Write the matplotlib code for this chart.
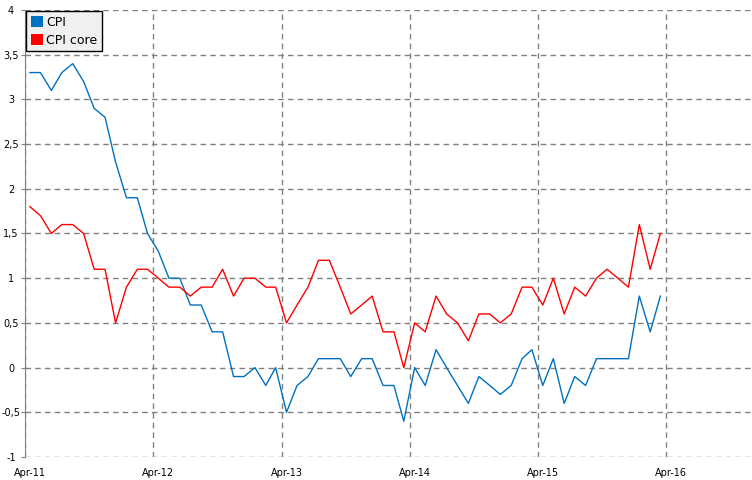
import numpy as np
import pandas as pd
import matplotlib
matplotlib.use('Agg')
import matplotlib.pyplot as plt
import matplotlib.dates as mdates
from matplotlib.patches import Patch
from matplotlib.ticker import FuncFormatter, MultipleLocator

# Datos mensuales (abr-2011 a mar-2016)
start_month = '2011-04-01'
n_months = 60

cpi = [3.3, 3.3, 3.1, 3.3, 3.4, 3.2, 2.9, 2.8, 2.3, 1.9, 1.9, 1.5,
       1.3, 1.0, 1.0, 0.7, 0.7, 0.4, 0.4, -0.1, -0.1, 0.0, -0.2, 0.0,
       -0.5, -0.2, -0.1, 0.1, 0.1, 0.1, -0.1, 0.1, 0.1, -0.2, -0.2, -0.6,
       0.0, -0.2, 0.2, 0.0, -0.2, -0.4, -0.1, -0.2, -0.3, -0.2, 0.1, 0.2,
       -0.2, 0.1, -0.4, -0.1, -0.2, 0.1, 0.1, 0.1, 0.1, 0.8, 0.4, 0.8]

cpi_core = [1.8, 1.7, 1.5, 1.6, 1.6, 1.5, 1.1, 1.1, 0.5, 0.9, 1.1, 1.1,
            1.0, 0.9, 0.9, 0.8, 0.9, 0.9, 1.1, 0.8, 1.0, 1.0, 0.9, 0.9,
            0.5, 0.7, 0.9, 1.2, 1.2, 0.9, 0.6, 0.7, 0.8, 0.4, 0.4, 0.0,
            0.5, 0.4, 0.8, 0.6, 0.5, 0.3, 0.6, 0.6, 0.5, 0.6, 0.9, 0.9,
            0.7, 1.0, 0.6, 0.9, 0.8, 1.0, 1.1, 1.0, 0.9, 1.6, 1.1, 1.5]

series_labels = ['CPI', 'CPI core']
series_colors = ['#0070C0', '#FF0000']

# puntos a mitad de mes
dates = pd.date_range(start_month, periods=n_months, freq='MS') + pd.Timedelta(days=14)

fig = plt.figure(figsize=(7.52, 4.80), dpi=100)
ax = fig.add_axes([25 / 752, 1 - 457 / 480, 1 - 25 / 752, 447 / 480])

ax.plot(dates, cpi, color=series_colors[0], lw=1.0)
ax.plot(dates, cpi_core, color=series_colors[1], lw=1.0)

ax.set_ylim(-1, 4)
ax.set_xlim(pd.Timestamp('2011-04-01'), pd.Timestamp('2016-12-01'))

# ejes y rejilla
ax.yaxis.set_major_locator(MultipleLocator(0.5))
ax.yaxis.set_major_formatter(FuncFormatter(lambda v, p: f'{v:g}'.replace('.', ',')))
ax.xaxis.set_major_locator(mdates.MonthLocator(bymonth=4, bymonthday=1))
ax.xaxis.set_major_formatter(plt.NullFormatter())
ax.xaxis.set_minor_locator(mdates.MonthLocator(bymonth=4, bymonthday=15))
ax.xaxis.set_minor_formatter(mdates.DateFormatter('%b-%y'))

ax.grid(True, which='major', color='#808080', linestyle=(0, (4, 3)), lw=1.0)
for s in ['top', 'right', 'bottom']:
    ax.spines[s].set_visible(False)
ax.spines['left'].set_color('#808080')
ax.tick_params(axis='y', length=3, color='#808080', labelsize=7, pad=7)
for lbl in ax.get_yticklabels():
    lbl.set_horizontalalignment('center')
ax.tick_params(axis='x', which='both', length=0, labelsize=7, pad=8)

handles = [Patch(facecolor=c, edgecolor='none') for c in series_colors]
leg = ax.legend(handles, series_labels, loc='upper left', bbox_to_anchor=(0.0, 1.0),
                borderaxespad=0.1, fontsize=9, handlelength=1.0, handleheight=1.0,
                handletextpad=0.25, borderpad=0.35, labelspacing=0.4,
                fancybox=False, framealpha=1.0)
leg.get_frame().set_facecolor('#F0F0F0')
leg.get_frame().set_edgecolor('black')
leg.get_frame().set_linewidth(1.0)

fig.savefig('out.png', dpi=100)
